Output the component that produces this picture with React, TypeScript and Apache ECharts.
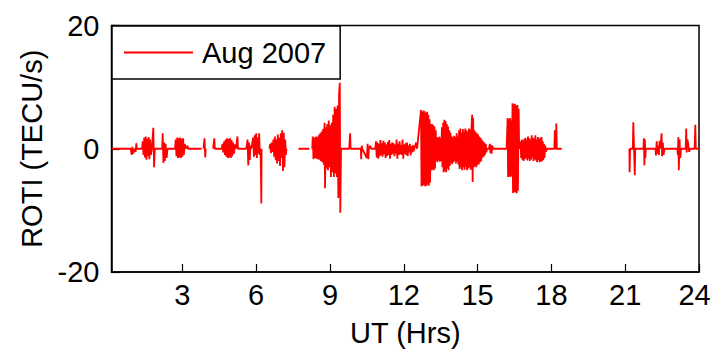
import React, { useEffect, useRef } from "react";
import * as echarts from "echarts";

const seriesName = "Aug 2007";
const xTicks = [3, 6, 9, 12, 15, 18, 21, 24];
const yTicks = [-20, 0, 20];
const xLabel = "UT (Hrs)";
const yLabel = "ROTI (TECU/s)";

// time (UT hours), ROTI (TECU/s)
const segA: [number, number][] = [
  [0.12, 0], [0.9, 0], [0.94, -1.0], [0.97, 0.3], [1.0, -0.8], [1.04, 0], [1.1, -0.5], [1.13, 0.9], [1.15, 0],
  [1.36, 0], [1.39, 1.2], [1.42, -1.0], [1.45, 1.8], [1.48, -1.4], [1.51, 2.0], [1.54, -1.8], [1.57, 1.6],
  [1.6, -1.2], [1.63, 1.9], [1.66, -1.7], [1.69, 1.5], [1.72, -1.0], [1.76, 0], [1.82, 3.4], [1.85, -3.0],
  [1.88, 0], [2.18, 0], [2.2, 2.5], [2.23, -2.3], [2.26, 1.0], [2.29, -2.0], [2.32, 0.8], [2.36, -1.5], [2.4, 0],
  [2.7, 0], [2.73, 1.5], [2.76, -1.2], [2.79, 1.8], [2.82, -1.5], [2.85, 1.7], [2.88, -1.4], [2.91, 1.8],
  [2.94, -1.5], [2.97, 1.6], [3.0, -1.3], [3.03, 1.7], [3.06, -1.0], [3.1, 0.8], [3.13, 0], [3.21, 0.5],
  [3.23, 0], [3.78, 0],
];
const segB: [number, number][] = [[3.86, 0], [3.9, 1.7], [3.93, -1.4], [3.95, 0]];
const segC: [number, number][] = [
  [4.25, 0], [4.3, 1.7], [4.32, 0], [4.6, 0], [4.63, 0.8], [4.66, -0.6], [4.7, 1.2], [4.73, -1.0], [4.76, 1.5],
  [4.79, -1.3], [4.82, 1.7], [4.85, -1.5], [4.88, 1.6], [4.91, -1.4], [4.94, 1.7], [4.97, -1.5], [5.0, 1.4],
  [5.03, -1.2], [5.06, 1.0], [5.1, -0.8], [5.14, 0.7], [5.18, 0], [5.24, 2.0], [5.26, 0], [5.6, 0], [5.65, 1.5],
  [5.68, -2.7], [5.71, 1.0], [5.74, -1.8], [5.77, 0.5], [5.8, 0], [5.88, 1.8], [5.91, -1.3], [5.94, 2.2],
  [5.97, -1.0], [6.0, 2.5], [6.03, -1.5], [6.06, 1.8], [6.09, -0.8], [6.12, 2.5], [6.15, -1.0], [6.18, 0],
  [6.21, -8.9], [6.22, 0],
];
const segD: [number, number][] = [
  [6.54, 0], [6.57, 0.8], [6.6, -0.7], [6.63, 1.0], [6.66, -0.5], [6.7, 1.5], [6.73, -1.3], [6.76, 2.0],
  [6.79, -1.8], [6.82, 1.5], [6.85, -2.4], [6.88, 2.3], [6.91, -2.0], [6.94, 1.8], [6.97, -2.8], [7.0, 2.5],
  [7.03, -1.5], [7.06, 3.0], [7.09, -3.6], [7.12, 2.6], [7.15, -3.0], [7.18, 1.5], [7.21, -1.0], [7.23, 0],
];
const segE: [number, number][] = [[7.72, 0], [8.16, 0]];
const segF: [number, number][] = [
  [8.28, 0], [8.3, 2.0], [8.33, -1.7], [8.36, 1.8], [8.39, -1.5], [8.42, 2.0], [8.45, -1.6], [8.48, 1.9],
  [8.51, -1.7], [8.54, 2.2], [8.57, -1.8], [8.6, 2.5], [8.63, -2.0], [8.66, 2.8], [8.69, -2.2], [8.72, 3.2],
  [8.75, -2.6], [8.78, 4.2], [8.8, -6.4], [8.83, 3.5], [8.86, -3.2], [8.89, 4.0], [8.92, -3.5], [8.95, 4.6],
  [8.98, -3.0], [9.01, 3.8], [9.04, -4.6], [9.07, 4.2], [9.1, -3.8], [9.13, 5.5], [9.16, -4.6], [9.19, 6.8],
  [9.22, -4.0], [9.25, 6.5], [9.28, -4.6], [9.31, 7.0], [9.34, -8.0], [9.37, 9.0], [9.4, 10.7], [9.42, -10.4],
  [9.45, 0], [9.78, 0], [9.82, 2.5], [9.84, 0], [10.25, 0], [10.27, -1.7], [10.29, 0.5], [10.31, 0],
  [10.5, -1.5], [10.53, 0.8], [10.56, -1.7], [10.58, 0], [10.64, 0.5], [10.67, 0], [10.84, 0],
  [10.87, 1.2], [10.9, -1.4], [10.93, 1.0], [10.96, -1.6], [10.99, 0.8], [11.02, -1.2], [11.05, 1.4],
  [11.08, -1.0], [11.11, 0.9], [11.14, -1.3], [11.17, 1.3], [11.2, -0.9], [11.23, 1.0], [11.26, -1.5],
  [11.29, 0.7], [11.32, -1.2], [11.35, 1.1], [11.38, -1.0], [11.41, 1.4], [11.44, -1.6], [11.47, 0.8],
  [11.5, -1.0], [11.53, 1.0], [11.56, -0.8], [11.59, 0.9], [11.62, -1.2], [11.65, 0.7], [11.68, -0.8],
  [11.71, 1.5], [11.74, -1.6], [11.77, 0.8], [11.8, -1.0], [11.83, 1.2], [11.86, -0.9], [11.89, 0.6],
  [11.92, -1.0], [11.95, 1.5], [11.98, -1.6], [12.01, 0.7], [12.04, -0.8], [12.07, 0.9], [12.1, -1.0],
  [12.13, 1.0], [12.16, -1.2], [12.19, 0.5], [12.22, -0.6], [12.25, 0.8], [12.28, -1.1], [12.31, 0.4],
  [12.34, -0.6], [12.37, 0.6], [12.4, -0.4], [12.45, 0.3], [12.5, 1.0], [12.54, 0],
  [12.7, 6.3], [12.72, -6.1], [12.75, 6.0], [12.77, -6.0], [12.8, 6.2], [12.82, -5.9], [12.85, 6.1],
  [12.87, -6.1], [12.9, 5.8], [12.92, -6.0], [12.95, 6.0], [12.97, -5.8], [13.0, 5.5], [13.02, -6.0],
  [13.05, 4.8], [13.07, -5.5], [13.1, 4.0], [13.12, -3.5], [13.15, 4.0], [13.17, -3.4], [13.2, 3.8],
  [13.22, -3.5], [13.25, 3.6], [13.27, -3.2], [13.3, 3.0], [13.32, -2.0], [13.35, 1.9], [13.37, -2.2],
  [13.4, 1.8], [13.42, -1.9], [13.45, 2.0], [13.47, -2.1], [13.5, 1.7], [13.52, -2.0], [13.55, 3.5],
  [13.57, -3.0], [13.6, 4.2], [13.62, -3.8], [13.65, 4.7], [13.67, -3.6], [13.7, 4.5], [13.72, -3.8],
  [13.75, 4.0], [13.77, -3.2], [13.8, 3.6], [13.82, -3.5], [13.85, 3.0], [13.87, -2.8], [13.9, 2.6],
  [13.92, -2.3], [13.95, 2.0], [13.97, -2.5], [14.0, 1.8], [14.02, -2.2], [14.05, 2.1], [14.07, -2.0],
  [14.1, 1.9], [14.12, -2.4], [14.15, 2.5], [14.17, -2.1], [14.2, 2.0], [14.22, -2.6], [14.25, 3.0],
  [14.27, -3.3], [14.3, 3.3], [14.32, -3.0], [14.35, 2.6], [14.37, -3.5], [14.4, 3.2], [14.42, -3.0],
  [14.45, 2.8], [14.47, -3.4], [14.5, 3.3], [14.52, -2.9], [14.55, 3.0], [14.57, -3.5], [14.6, 2.7],
  [14.62, -3.2], [14.65, 3.3], [14.67, -3.0], [14.7, 3.1], [14.72, -3.4], [14.75, 3.2], [14.78, 5.5],
  [14.8, -5.4], [14.82, 5.0], [14.85, -3.0], [14.87, 3.0], [14.9, -2.8], [14.92, 2.7], [14.95, -3.0],
  [14.97, 2.5], [15.0, -2.6], [15.02, 2.3], [15.05, -2.5], [15.07, 2.0], [15.1, -2.2], [15.12, 1.8],
  [15.15, -2.0], [15.17, 1.5], [15.2, -1.4], [15.22, 1.2], [15.25, -1.3], [15.27, 1.0], [15.3, -1.0],
  [15.33, 0.8], [15.36, -0.6], [15.38, 0], [15.46, 0], [15.5, 0.8], [15.52, -0.7], [15.55, 0.6],
  [15.57, -0.8], [15.6, 0.5], [15.63, 0], [16.18, 0], [16.22, 5.0], [16.24, -4.6], [16.27, 4.8],
  [16.29, -4.5], [16.32, 5.0], [16.34, -4.6], [16.37, 4.6], [16.39, -4.4], [16.42, 7.4], [16.44, -7.2],
  [16.47, 7.2], [16.49, -7.0], [16.52, 7.3], [16.54, -7.1], [16.57, 7.0], [16.59, -7.2], [16.62, 7.1],
  [16.64, -6.8], [16.67, 6.5], [16.69, 0], [16.75, 1.2], [16.77, -1.5], [16.8, 1.5], [16.82, -1.8],
  [16.85, 1.3], [16.87, -2.0], [16.9, 1.6], [16.92, -1.7], [16.95, 1.8], [16.97, -1.5], [17.0, 1.4],
  [17.02, -1.9], [17.05, 2.0], [17.07, -1.6], [17.1, 1.7], [17.12, -2.0], [17.15, 1.5], [17.17, -1.8],
  [17.2, 2.2], [17.22, -1.4], [17.25, 1.8], [17.27, -2.0], [17.3, 1.6], [17.32, -1.7], [17.35, 2.2],
  [17.37, -1.9], [17.4, 1.5], [17.42, -2.2], [17.45, 1.9], [17.47, -1.8], [17.5, 1.6], [17.52, -2.2],
  [17.55, 1.8], [17.57, -2.1], [17.6, 1.9], [17.62, -2.0], [17.65, 1.2], [17.67, -1.8], [17.7, 0.8],
  [17.72, -1.5], [17.75, 0.5], [17.78, -0.5], [17.81, 0], [18.12, 0], [18.14, 3.0], [18.16, 0],
  [18.19, 0], [18.2, 4.1], [18.22, 0], [18.42, 0],
];
const segH: [number, number][] = [
  [21.17, 0], [21.18, -3.8], [21.2, 0], [21.31, 0], [21.33, 4.3], [21.36, 0], [21.39, -4.3], [21.41, 0],
  [21.74, 0], [21.76, 1.7], [21.78, -2.7], [21.8, 1.5], [21.82, -1.5], [21.84, 0], [22.23, 0], [22.25, -1.1],
  [22.28, 1.2], [22.31, -0.8], [22.34, 0.5], [22.37, -1.0], [22.4, 1.3], [22.43, 0], [22.48, 2.5],
  [22.5, -1.2], [22.53, 1.0], [22.56, -1.0], [22.6, 0], [23.12, 0], [23.14, -1.0], [23.16, 1.9],
  [23.18, -3.5], [23.21, 1.5], [23.24, -1.5], [23.27, 0], [23.46, 0], [23.48, 3.3], [23.5, -0.6],
  [23.53, 1.5], [23.56, 0.8], [23.6, -0.5], [23.64, 0], [23.82, 0], [23.85, 3.9], [23.87, 0], [24, 0],
];
const segments = [segA, segB, segC, segD, segE, segF, segH];

const FONT = "'Liberation Sans', Arial, Helvetica, sans-serif";

export default function App() {
  const ref = useRef<HTMLDivElement>(null);
  useEffect(() => {
    if (!ref.current) return;
    const chart = echarts.init(ref.current, null, { renderer: "svg" });
    const data: any[] = [];
    segments.forEach((s, i) => {
      if (i > 0) data.push([s[0][0], "-"]);
      s.forEach((p) => data.push(p));
    });
    const lastTick = xTicks[xTicks.length - 1];
    chart.setOption({
      animation: false,
      backgroundColor: "#ffffff",
      grid: {
        left: 111.5,
        right: 12,
        top: 25.5,
        bottom: 81,
        containLabel: false,
        outerBoundsMode: "none",
        show: true,
        borderColor: "#000",
        borderWidth: 1.5,
        backgroundColor: "transparent",
      },
      legend: {
        show: true,
        left: 112,
        top: 26,
        data: [{ name: seriesName, icon: "rect" }],
        itemWidth: 69,
        itemHeight: 2,
        padding: [12, 14, 12, 12],
        borderColor: "#000",
        borderWidth: 1.5,
        backgroundColor: "#fff",
        textStyle: { fontFamily: FONT, fontSize: 29, color: "#000", padding: [0, 0, 0, 4] },
      },
      xAxis: {
        type: "value",
        min: 0.12,
        max: 24,
        name: xLabel,
        nameLocation: "middle",
        nameGap: 46,
        nameTextStyle: { fontFamily: FONT, fontSize: 29, color: "#000" },
        axisLine: { show: true, onZero: false, lineStyle: { color: "#000", width: 1.5 } },
        axisTick: { show: true, inside: true, length: 8, customValues: xTicks, lineStyle: { color: "#000", width: 1.2 } },
        axisLabel: {
          customValues: xTicks,
          margin: 8,
          fontFamily: FONT,
          fontSize: 29,
          color: "#000",
          formatter: (v: number) => (v === lastTick ? "{m|" + v + "}" : String(v)),
          rich: { m: { fontFamily: FONT, fontSize: 29, color: "#000", padding: [0, 9, 0, 0] } },
        },
        splitLine: { show: false },
      },
      yAxis: {
        type: "value",
        min: yTicks[0],
        max: yTicks[yTicks.length - 1],
        interval: 20,
        name: yLabel,
        nameLocation: "middle",
        nameGap: 63,
        nameTextStyle: { fontFamily: FONT, fontSize: 29, color: "#000" },
        axisLine: { show: true, lineStyle: { color: "#000", width: 1.5 } },
        axisTick: { show: true, inside: true, length: 8, lineStyle: { color: "#000", width: 1.2 } },
        axisLabel: { margin: 12, fontFamily: FONT, fontSize: 29, color: "#000" },
        splitLine: { show: false },
      },
      series: [
        {
          name: seriesName,
          type: "line",
          data,
          showSymbol: false,
          symbol: "none",
          connectNulls: false,
          lineStyle: { color: "#ff0000", width: 1.8 },
          itemStyle: { color: "#ff0000" },
          z: 1,
        },
      ],
    });
    return () => chart.dispose();
  }, []);
  return <div ref={ref} style={{ position: "fixed", left: 0, top: 0, width: 711, height: 353 }} />;
}
